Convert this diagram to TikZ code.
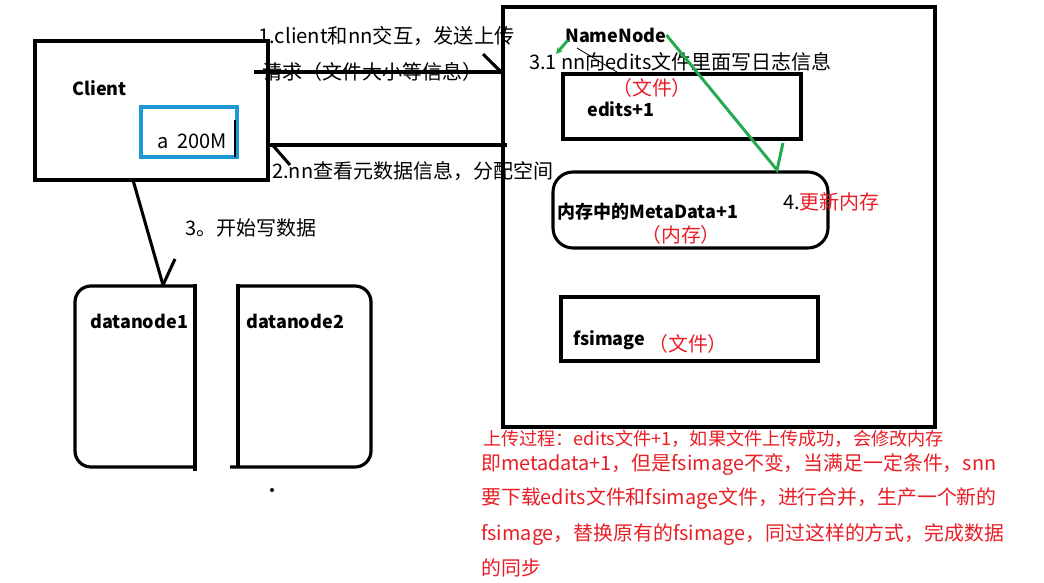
\documentclass[tikz,border=0pt]{standalone}
\usepackage{fontspec}
\setmainfont{Noto Sans CJK SC}
\usetikzlibrary{fit,arrows.meta}
\definecolor{pred}{RGB}{232,30,38}
\definecolor{pgreen}{RGB}{34,170,76}
\definecolor{pblue}{RGB}{28,152,214}
\tikzset{
  box/.style={draw=black, line width=2.8pt, inner sep=0pt},
  thinbox/.style={draw=black, line width=2.3pt, inner sep=0pt},
  conn/.style={draw=black, line width=2.3pt},
  gline/.style={draw=pgreen, line width=2.2pt},
  lbl/.style={inner sep=0pt, anchor=west, font=\fontsize{13.5pt}{14pt}\selectfont\bfseries},
  txt/.style={inner sep=0pt, anchor=west, font=\fontsize{15pt}{16pt}\selectfont},
  rtxt/.style={inner sep=0pt, anchor=west, text=pred, font=\fontsize{14.9pt}{16pt}\selectfont},
}
\begin{document}
\begin{tikzpicture}[x=0.75pt,y=-0.75pt]
\useasboundingbox[fill=white] (0,0) rectangle (1044,582);

% Client
\node[box, fit={(35,41) (268,180)}] (client) {};
\node[lbl] (clientlbl) at (72,88) {Client};
\node[draw=pblue, line width=2.4pt, inner sep=0pt, fit={(141,107) (237,157)}] (file) {};
\node[txt] (filelbl) at (157,141) {a\ \ 200M};
\draw[line width=0.8pt] (235,120) -- (235,157);

% NameNode
\node[box, fit={(503,7) (935,427)}] (nn) {};
\node[lbl] (nnlbl) at (565,35) {NameNode};
\node[thinbox, fit={(563,74) (801,139)}] (edits) {};
\node[lbl] (editslbl) at (587,109) {edits+1};
\node[rtxt] (editsfile) at (612,88) {（文件）};
\node[thinbox, rounded corners=15pt, fit={(553,172) (828,248)}] (meta) {};
\node[lbl] (metalbl) at (557,212) {内存中的MetaData+1};
\node[rtxt] (metamem) at (641,235) {（内存）};
\node[thinbox, fit={(561,297) (818,361)}] (fsimage) {};
\node[lbl] (fslbl) at (573,340) {fsimage};
\node[rtxt] (fsfile) at (648,344) {（文件）};

% step labels
\node[txt, font=\fontsize{15.2pt}{16pt}\selectfont] (s1a) at (258,36) {1.client和nn交互，发送上传};
\node[txt] (s1b) at (262,72) {请求（文件大小等信息）};
\node[txt] (s2) at (272,171) {2.nn查看元数据信息，分配空间};
\node[txt] (s3) at (185,228) {3。开始写数据};
\node[txt] (s31) at (529,62) {3.1 nn向edits文件里面写日志信息};
\node[txt] (s4) at (783,202) {4.\textcolor{pred}{更新内存}};

% arrow 1: client -> namenode
\coordinate (a1s) at (254,72);
\coordinate (a1e) at (nn.west |- a1s);
\coordinate (a1h) at (483,54);
\draw[conn] (a1s) -- (a1e);
\draw[conn] (a1h) -- (a1e);
% arrow 2: namenode -> client
\coordinate (a2e) at (client.east |- 0,145);
\coordinate (a2s) at (507,145);
\coordinate (a2h) at (290,165);
\draw[conn] (a2s) -- (a2e);
\draw[conn] (a2h) -- ([xshift=2pt]a2e);

% datanodes
\draw[line width=2.4pt, rounded corners=12pt] (193,286) -- (75,286) -- (75,467) -- (193,467);
\draw[line width=2.4pt] (195,284) -- (195,471);
\node[lbl] (dn1) at (90,321) {datanode1};
\draw[line width=2.4pt, rounded corners=12pt] (238,286) -- (371,286) -- (371,467) -- (230,467);
\draw[line width=2.4pt] (238,284) -- (238,468);
\node[lbl] (dn2) at (246,321) {datanode2};
\node[circle, fill=black, inner sep=0pt, minimum size=3pt] (dot) at (272,490) {};

% arrow 3: client -> datanode1
\coordinate (a3s) at (133,180);
\coordinate (a3e) at (163,285);
\coordinate (a3h) at (175,259);
\draw[conn] (a3s) -- (a3e);
\draw[conn] (a3h) -- (a3e);

% green strokes
\coordinate (g1) at (556,54);
\draw[gline, -{Stealth[length=5pt,width=5pt]}] (568,40) -- (g1);
\coordinate (gv) at (777,170);
\coordinate (gt) at (783,143);
\draw[gline] (nnlbl.east) -- (gv) -- (gt);
\draw[line width=0.6pt] (577,48) -- (617,72);

% red paragraph
\node[rtxt, font=\fontsize{13.6pt}{14pt}\selectfont] (p1) at (483,439) {上传过程：edits文件+1，如果文件上传成功，会修改内存};
\node[rtxt] (p2) at (481,465) {即metadata+1，但是fsimage不变，当满足一定条件，snn};
\node[rtxt] (p3) at (481,499) {要下载edits文件和fsimage文件，进行合并，生产一个新的};
\node[rtxt] (p4) at (481,535) {fsimage，替换原有的fsimage，同过这样的方式，完成数据};
\node[rtxt] (p5) at (481,568) {的同步};
\end{tikzpicture}
\end{document}
